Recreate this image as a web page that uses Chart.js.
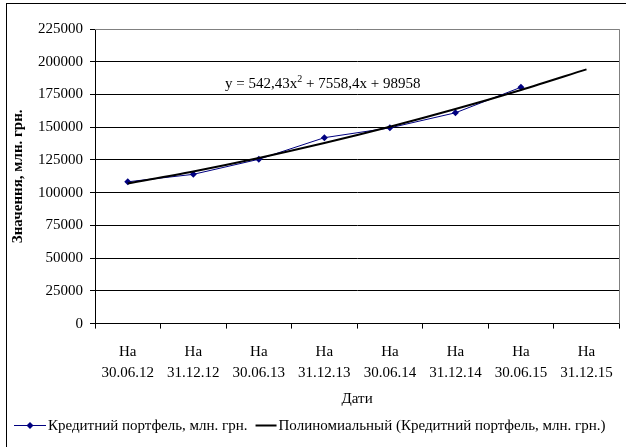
<!DOCTYPE html>
<html>
<head>
<meta charset="utf-8">
<script src="https://cdn.jsdelivr.net/npm/chart.js@4.4.0/dist/chart.umd.min.js"></script>
<style>
  html, body { margin: 0; padding: 0; background: #fff; }
</style>
</head>
<body>
<canvas id="chart" width="626" height="447"></canvas>
<script>
const categories = [
  ["На", "30.06.12"], ["На", "31.12.12"], ["На", "30.06.13"], ["На", "31.12.13"],
  ["На", "30.06.14"], ["На", "31.12.14"], ["На", "30.06.15"], ["На", "31.12.15"]
];
// кредитний портфель, млн. грн.
const portfolio = [108300, 114000, 125500, 142000, 149500, 161000, 180500, null];
// poly trend as drawn (y = 542,43x2 + 7558,4x + 98958 at x = 1..8)
const trend = [107059, 116245, 126513, 137870, 150311, 163836, 178446, 194141];
const yMin = 0;
const yMax = 225000;
const yStep = 25000;

const seriesName = "Кредитний портфель, млн. грн.";
const trendName = "Полиномиальный (Кредитний портфель, млн. грн.)";
const FONT = "'Liberation Serif', 'Times New Roman', serif";
const NAVY = "#000080";

const framePlugin = {
  id: "frame",
  beforeDraw(chart) {
    const ctx = chart.ctx;
    ctx.save();
    ctx.fillStyle = "#fff";
    ctx.fillRect(0, 0, chart.width, chart.height);
    ctx.strokeStyle = "#000";
    ctx.lineWidth = 1;
    ctx.strokeRect(6.5, 3.5, chart.width + 20, chart.height + 20);
    ctx.restore();
  },
  afterDraw(chart) {
    const { ctx, chartArea } = chart;
    ctx.save();
    // plot area border, top and right
    ctx.strokeStyle = "#808080";
    ctx.lineWidth = 1;
    ctx.beginPath();
    ctx.moveTo(chartArea.left, Math.round(chartArea.top) + 0.5);
    ctx.lineTo(Math.round(chartArea.right) + 0.5, Math.round(chartArea.top) + 0.5);
    ctx.lineTo(Math.round(chartArea.right) + 0.5, chartArea.bottom);
    ctx.stroke();

    // legend, one row like the original
    const y = 425;
    let x = 14;
    ctx.font = "15px " + FONT;
    ctx.textBaseline = "middle";
    ctx.fillStyle = "#000";
    ctx.strokeStyle = NAVY;
    ctx.lineWidth = 1;
    ctx.beginPath();
    ctx.moveTo(x, y + 0.5);
    ctx.lineTo(x + 32, y + 0.5);
    ctx.stroke();
    ctx.fillStyle = NAVY;
    ctx.beginPath();
    ctx.moveTo(x + 16, y - 3);
    ctx.lineTo(x + 19.5, y + 0.5);
    ctx.lineTo(x + 16, y + 4);
    ctx.lineTo(x + 12.5, y + 0.5);
    ctx.closePath();
    ctx.fill();
    x += 34;
    ctx.fillStyle = "#000";
    ctx.fillText(seriesName, x, y + 1);
    x += ctx.measureText(seriesName).width + 8;
    ctx.strokeStyle = "#000";
    ctx.lineWidth = 2;
    ctx.beginPath();
    ctx.moveTo(x, y + 0.5);
    ctx.lineTo(x + 21, y + 0.5);
    ctx.stroke();
    x += 23;
    ctx.fillText(trendName, x, y + 1);
    ctx.restore();
  }
};

const equationPlugin = {
  id: "equation",
  afterDatasetsDraw(chart) {
    const { ctx, chartArea } = chart;
    let x = chartArea.left + 130;
    const y = chartArea.top + 59;
    ctx.save();
    ctx.fillStyle = "#000";
    ctx.textBaseline = "alphabetic";
    ctx.font = "15px " + FONT;
    const a = "y = 542,43x";
    ctx.fillText(a, x, y);
    x += ctx.measureText(a).width;
    ctx.font = "10px " + FONT;
    ctx.fillText("2", x, y - 6);
    x += ctx.measureText("2").width;
    ctx.font = "15px " + FONT;
    ctx.fillText(" + 7558,4x + 98958", x, y);
    ctx.restore();
  }
};

new Chart(document.getElementById("chart"), {
  type: "line",
  data: {
    labels: categories,
    datasets: [
      {
        label: seriesName,
        data: portfolio,
        borderColor: NAVY,
        backgroundColor: NAVY,
        borderWidth: 1,
        pointStyle: "rectRot",
        pointRadius: 3.5,
        pointBorderWidth: 0,
        tension: 0,
        order: 2
      },
      {
        label: trendName,
        data: trend,
        borderColor: "#000",
        borderWidth: 2,
        pointRadius: 0,
        cubicInterpolationMode: "monotone",
        order: 1
      }
    ]
  },
  options: {
    responsive: false,
    animation: false,
    layout: { padding: { left: 8, right: 4, top: 29, bottom: 37 } },
    plugins: {
      tooltip: { enabled: false },
      legend: { display: false }
    },
    scales: {
      x: {
        offset: true,
        grid: {
          offset: true,
          drawOnChartArea: false,
          drawTicks: true,
          tickLength: 5,
          tickColor: "#000"
        },
        border: { display: true, color: "#000", width: 1 },
        ticks: {
          color: "#000",
          font: { family: FONT, size: 15, lineHeight: 1.38 },
          padding: 13,
          maxRotation: 0,
          autoSkip: false
        },
        title: {
          display: true,
          text: "Дати",
          color: "#000",
          font: { family: FONT, size: 15 },
          padding: { top: -6, bottom: 2 }
        }
      },
      y: {
        min: yMin,
        max: yMax,
        afterFit(scale) { scale.width = 87; },
        grid: {
          color: "#000",
          lineWidth: 1,
          tickLength: 5,
          tickColor: "#000"
        },
        border: { display: true, color: "#000", width: 1 },
        ticks: {
          stepSize: yStep,
          color: "#000",
          font: { family: FONT, size: 15 },
          padding: 7,
          callback: (v) => String(v)
        },
        title: {
          display: true,
          text: "Значення, млн. грн.",
          color: "#000",
          font: { family: FONT, size: 15, weight: "bold" },
          padding: { top: 1, bottom: 0 }
        }
      }
    }
  },
  plugins: [framePlugin, equationPlugin]
});
</script>
</body>
</html>
